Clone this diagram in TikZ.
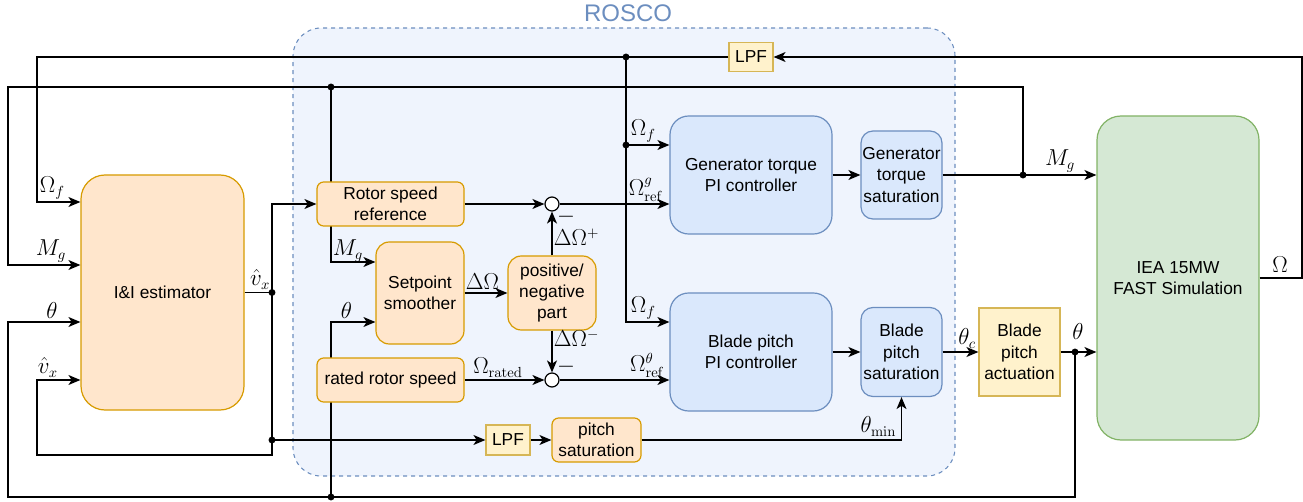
\documentclass[tikz,border=0pt]{standalone}
\usepackage[no-math]{fontspec}
\setmainfont{Liberation Sans}
\usepackage{amsmath}
\usetikzlibrary{arrows.meta,backgrounds}
\definecolor{orangeF}{RGB}{255,230,204}
\definecolor{orangeD}{RGB}{215,155,0}
\definecolor{yellowF}{RGB}{255,242,204}
\definecolor{yellowD}{RGB}{214,182,86}
\definecolor{blueF}{RGB}{218,232,252}
\definecolor{blueD}{RGB}{108,142,191}
\definecolor{greenF}{RGB}{213,232,212}
\definecolor{greenD}{RGB}{130,179,102}
\definecolor{roscoF}{RGB}{239,244,253}
\tikzstyle{arrow} = [line width=1pt,-{Stealth[length=9pt,width=7.5pt,inset=2.5pt]}]
\tikzstyle{line} = [line width=1pt]
\tikzstyle{block} = [line width=0.9pt,align=center,inner sep=1pt,font=\fontsize{13}{16}\selectfont]
\tikzstyle{orangebox} = [block,draw=orangeD,fill=orangeF]
\tikzstyle{yellowbox} = [block,draw=yellowD,fill=yellowF]
\tikzstyle{bluebox} = [block,draw=blueD,fill=blueF]
\tikzstyle{greenbox} = [block,draw=greenD,fill=greenF]
\tikzstyle{sumnode} = [circle,draw,fill=white,line width=0.9pt,minimum size=10.5pt,inner sep=0pt]
\tikzstyle{lab} = [inner sep=0.5pt,font=\fontsize{16}{18}\selectfont]
\tikzstyle{rosco} = [draw=blueD,fill=roscoF,dashed,line width=0.8pt,rounded corners=21pt]

\begin{document}
\begin{tikzpicture}[x=0.75pt,y=0.75pt,yscale=-1]
\useasboundingbox (0,0) rectangle (1303,502);

% blocks
\node[orangebox,rounded corners=18pt,minimum width=122.25pt,minimum height=176.25pt] (est) at (162.5,292.5) {I\&I estimator};
\node[orangebox,rounded corners=5pt,minimum width=110.25pt,minimum height=33pt] (rsr) at (390.5,204) {Rotor speed\\reference};
\node[orangebox,rounded corners=10pt,minimum width=66pt,minimum height=76.5pt] (sps) at (420,293) {Setpoint\\smoother};
\node[orangebox,rounded corners=10pt,minimum width=66pt,minimum height=55.5pt] (pnp) at (552,293) {positive/\\negative\\part};
\node[orangebox,rounded corners=5pt,minimum width=110.25pt,minimum height=33pt] (rrs) at (390.5,380) {rated rotor speed};
\node[yellowbox,minimum width=33pt,minimum height=22.5pt] (lpfb) at (508,440) {LPF};
\node[orangebox,rounded corners=5pt,minimum width=66.75pt,minimum height=33pt] (psat) at (596.5,440) {pitch\\saturation};
\node[sumnode] (sumg) at (552,204) {};
\node[sumnode] (sump) at (552,380) {};
\node[bluebox,rounded corners=14pt,minimum width=121.5pt,minimum height=88.5pt] (gpi) at (751,175) {Generator torque\\PI controller};
\node[bluebox,rounded corners=9pt,minimum width=60.75pt,minimum height=66pt] (gsat) at (901.5,175) {Generator\\torque\\saturation};
\node[bluebox,rounded corners=14pt,minimum width=121.5pt,minimum height=88.5pt] (bpi) at (751,352) {Blade pitch\\PI controller};
\node[bluebox,rounded corners=9pt,minimum width=60.75pt,minimum height=66.75pt] (bsat) at (901.5,352) {Blade\\pitch\\saturation};
\node[yellowbox,minimum width=60.75pt,minimum height=66pt] (act) at (1019.5,352) {Blade\\pitch\\actuation};
\node[greenbox,rounded corners=18pt,minimum width=121.5pt,minimum height=243pt] (fast) at (1178,278) {IEA 15MW\\FAST Simulation};
\node[yellowbox,minimum width=33pt,minimum height=22pt] (lpft) at (751,57) {LPF};
\node[font=\fontsize{18}{20}\selectfont,text=blueD] (roscoLbl) at (628,13) {ROSCO};

% junctions and corners
\coordinate (jOmTop) at (626,57);
\coordinate (jOmG) at (626,145);
\coordinate (jMgTop) at (331,87);
\coordinate (jMgOut) at (1023,175);
\coordinate (jThOut) at (1075,352);
\coordinate (jThBot) at (331,497);
\coordinate (jVx) at (272,292.5);
\coordinate (jVxBot) at (272,440);
\coordinate (cR) at (1302,57);
\coordinate (cOmL) at (37,202);
\coordinate (cBpiOm) at (626,322);
\coordinate (cMgL) at (8,87);
\coordinate (cMgE) at (8,265);
\coordinate (cMgS) at (331,262);
\coordinate (cThL) at (8,497);
\coordinate (cThE) at (8,322);
\coordinate (cThS) at (331,322);
\coordinate (cVxT) at (272,204);
\coordinate (cVxB) at (272,455);
\coordinate (cVxL) at (37,380);

\begin{scope}[on background layer]
\node[rosco,minimum width=496.5pt,minimum height=336pt] (roscoBox) at (624,252) {};
\draw[arrow] (jMgTop) -- (cMgS) -- (cMgS -| sps.west);
\draw[arrow] (jThBot) -- (cThS) -- (cThS -| sps.west);
\end{scope}

% feedback of rotor speed
\draw[arrow] (fast.east) -| (cR) -- (lpft.east);
\draw[arrow] (lpft.west) -| (cOmL) -- (cOmL -| est.west);
\draw[arrow] (jOmTop) -- (cBpiOm) -- (cBpiOm -| bpi.west);
\draw[arrow] (jOmG) -- (jOmG -| gpi.west);

% generator torque
\draw[arrow] (gsat.east) -- (gsat.east -| fast.west);
\draw[arrow] (jMgOut) |- (cMgL) -- (cMgE) -- (cMgE -| est.west);

% pitch
\draw[arrow] (act.east) -- (act.east -| fast.west);
\draw[arrow] (jThOut) |- (cThL) -- (cThE) -- (cThE -| est.west);

% wind speed estimate
\draw[line] (est.east) -- (jVx) -- (jVxBot);
\draw[arrow] (jVx) -- (cVxT) -- (rsr.west);
\draw[arrow] (jVxBot) -- (lpfb.west);
\draw[arrow] (jVxBot) -- (cVxB) -| (cVxL) -- (cVxL -| est.west);
\draw[arrow] (lpfb) -- (psat);
\draw[arrow] (psat.east) -| (bsat.south);

% inside ROSCO
\draw[arrow] (rsr.east) -- (sumg.west);
\draw[arrow] (sumg.east) -- (sumg.east -| gpi.west);
\draw[arrow] (sps.east) -- (pnp.west);
\draw[arrow] (pnp.north) -- (sumg.south);
\draw[arrow] (pnp.south) -- (sump.north);
\draw[arrow] (rrs.east) -- (sump.west);
\draw[arrow] (sump.east) -- (sump.east -| bpi.west);
\draw[arrow] (gpi) -- (gsat);
\draw[arrow] (bpi) -- (bsat);
\draw[arrow] (bsat) -- (act);

\fill (jOmTop) circle (2.6pt) (jOmG) circle (2.6pt) (jMgTop) circle (2.6pt) (jMgOut) circle (2.6pt)
  (jThOut) circle (2.6pt) (jThBot) circle (2.6pt) (jVx) circle (2.6pt) (jVxBot) circle (2.6pt);

% labels
\node[lab,anchor=south west] (lOmfE) at (39,200) {$\Omega_f$};
\node[lab,anchor=south west] (lMgE) at (35,263) {$M_g$};
\node[lab,anchor=south] (lThE) at (52,319) {$\theta$};
\node[lab,anchor=south west] (lVxE) at (37,378) {$\hat{v}_x$};
\node[lab,anchor=south east] (lVxO) at (271,290) {$\hat{v}_x$};
\node[lab,anchor=south west] (lMgS) at (332,263) {$M_g$};
\node[lab,anchor=south west] (lThS) at (340,319) {$\theta$};
\node[lab,anchor=south west] (lDOm) at (465,290) {$\Delta\Omega$};
\node[lab,anchor=west] (lDOp) at (553,237) {$\Delta\Omega^+$};
\node[lab,anchor=west] (lDOn) at (553,338) {$\Delta\Omega^-$};
\node[lab] (lMinG) at (566,217) {$-$};
\node[lab] (lMinP) at (566,367) {$-$};
\node[lab,anchor=south] (lOrat) at (498,378) {$\Omega_{\mathrm{rated}}$};
\node[lab,anchor=south west] (lOmfG) at (630,143) {$\Omega_f$};
\node[lab,anchor=south west] (lOrefG) at (628,202) {$\Omega^g_{\mathrm{ref}}$};
\node[lab,anchor=south west] (lOmfB) at (630,320) {$\Omega_f$};
\node[lab,anchor=south east] (lOrefB) at (665,378) {$\Omega^\theta_{\mathrm{ref}}$};
\node[lab,anchor=south east] (lThMin) at (897,437) {$\theta_{\min}$};
\node[lab,anchor=south] (lThC) at (967,349) {$\theta_c$};
\node[lab,anchor=south] (lThF) at (1078,340) {$\theta$};
\node[lab,anchor=south] (lMgF) at (1060,173) {$M_g$};
\node[lab,anchor=south] (lOm) at (1280,273) {$\Omega$};

\end{tikzpicture}
\end{document}
